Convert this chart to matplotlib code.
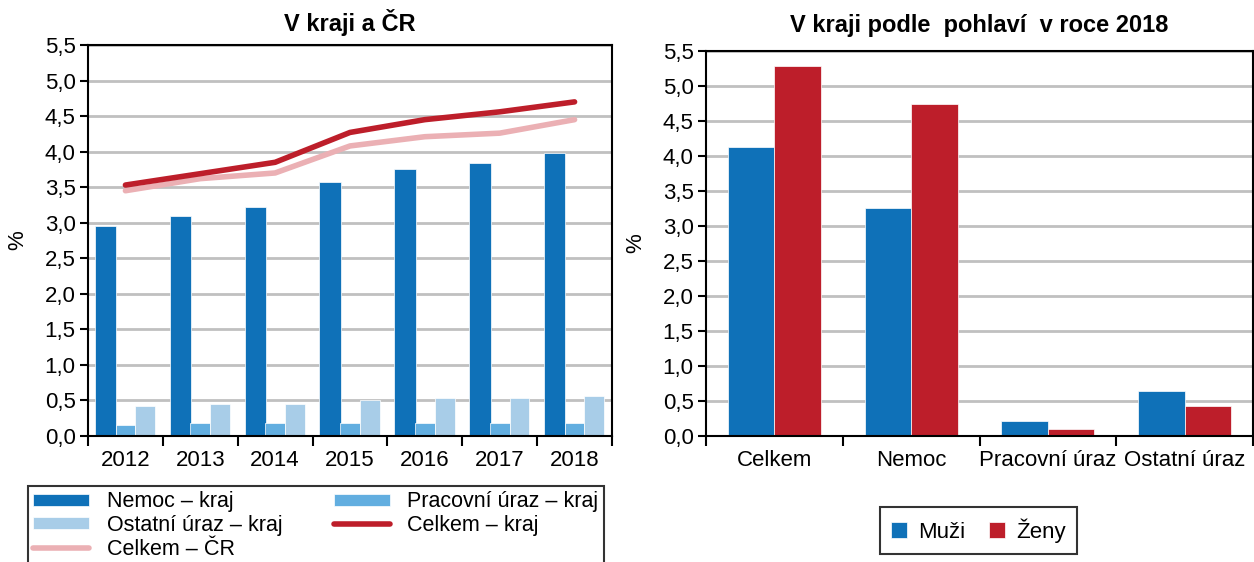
import numpy as np
import matplotlib.pyplot as plt
from matplotlib.ticker import FuncFormatter, MultipleLocator, FixedLocator

plt.rcParams['font.family'] = ['Liberation Sans', 'DejaVu Sans']

years = ['2012', '2013', '2014', '2015', '2016', '2017', '2018']
nemoc_kraj = [2.95, 3.09, 3.22, 3.57, 3.76, 3.84, 3.98]
pracovni_kraj = [0.15, 0.18, 0.18, 0.18, 0.18, 0.18, 0.18]
ostatni_kraj = [0.42, 0.45, 0.45, 0.50, 0.53, 0.53, 0.56]
celkem_kraj = [3.53, 3.69, 3.85, 4.27, 4.45, 4.56, 4.70]
celkem_cr = [3.45, 3.62, 3.70, 4.08, 4.21, 4.26, 4.45]

kategorie = ['Celkem', 'Nemoc', 'Pracovní úraz', 'Ostatní úraz']
muzi = [4.13, 3.26, 0.21, 0.65]
zeny = [5.29, 4.74, 0.10, 0.43]

c_nemoc = '#0F71B8'
c_prac = '#62AEE0'
c_ost = '#A8CDE8'
c_red = '#BD1E2A'
c_pink = '#EBB0B4'

comma = FuncFormatter(lambda v, p: ('%.1f' % v).replace('.', ','))


def style_axes(ax, n):
    ax.set_ylim(0, 5.5)
    ax.set_xlim(-0.5, n - 0.5)
    ax.yaxis.set_major_locator(MultipleLocator(0.5))
    ax.yaxis.set_major_formatter(comma)
    ax.yaxis.grid(True, color='#C0C0C0', linewidth=2)
    ax.set_axisbelow(True)
    ax.set_xticks(np.arange(n))
    ax.xaxis.set_minor_locator(FixedLocator(np.arange(n + 1) - 0.5))
    ax.tick_params(axis='x', which='major', length=0, labelsize=16, pad=10)
    ax.tick_params(axis='x', which='minor', length=7, width=1.5, direction='out')
    ax.tick_params(axis='y', length=6, width=1.5, labelsize=16, pad=3)
    for s in ax.spines.values():
        s.set_linewidth(1.5)
    ax.set_ylabel('%', fontsize=16, labelpad=12)


fig = plt.figure(figsize=(12.54, 5.62), dpi=100)

# left chart
ax1 = fig.add_axes([88 / 1254, 1 - 436 / 562, 524 / 1254, 391 / 562])
x = np.arange(len(years))
w = 0.265
b_nemoc = ax1.bar(x - w, nemoc_kraj, w + 0.02, color=c_nemoc, edgecolor='white', linewidth=0.5)
b_prac = ax1.bar(x, pracovni_kraj, w, color=c_prac, edgecolor='white', linewidth=0.5)
b_ost = ax1.bar(x + w, ostatni_kraj, w, color=c_ost, edgecolor='white', linewidth=0.5)
l_kraj, = ax1.plot(x, celkem_kraj, color=c_red, linewidth=4, solid_capstyle='round', zorder=4)
l_cr, = ax1.plot(x, celkem_cr, color=c_pink, linewidth=4, solid_capstyle='round', zorder=3)
style_axes(ax1, len(years))
ax1.set_xticklabels(years)
ax1.set_title('V kraji a ČR', fontsize=17, fontweight='bold', pad=10)

# column-major filling -> row order of the reference
h = [b_nemoc, b_ost, l_cr, b_prac, l_kraj]
l = ['Nemoc – kraj', 'Ostatní úraz – kraj', 'Celkem – ČR', 'Pracovní úraz – kraj', 'Celkem – kraj']
leg1 = fig.legend(h, l, ncol=2, loc='upper left', bbox_to_anchor=(28 / 1254, 1 - 486 / 562),
                  fontsize=15.5, frameon=True, fancybox=False, edgecolor='black',
                  handlelength=2.6, handleheight=0.5, handletextpad=0.8,
                  labelspacing=0.12, columnspacing=2.4, borderpad=0.25, borderaxespad=0)
leg1.get_frame().set_linewidth(1.5)

# right chart
ax2 = fig.add_axes([706 / 1254, 1 - 436 / 562, 547 / 1254, 385 / 562])
x2 = np.arange(len(kategorie))
w2 = 0.34
ax2.bar(x2 - w2 / 2, muzi, w2, color=c_nemoc, edgecolor='white', linewidth=0.5, label='Muži')
ax2.bar(x2 + w2 / 2, zeny, w2, color=c_red, edgecolor='white', linewidth=0.5, label='Ženy')
style_axes(ax2, len(kategorie))
ax2.set_xticklabels(kategorie)
ax2.set_title('V kraji podle  pohlaví  v roce 2018', fontsize=17, fontweight='bold', pad=14)

leg2 = fig.legend(*ax2.get_legend_handles_labels(), loc='upper left',
                  bbox_to_anchor=(880 / 1254, 1 - 507 / 562), ncol=2, fontsize=16,
                  frameon=True, fancybox=False, edgecolor='black', handlelength=0.7,
                  handleheight=0.7, handletextpad=0.5, columnspacing=1.1, borderpad=0.5,
                  borderaxespad=0)
leg2.get_frame().set_linewidth(1.5)

fig.savefig('out.png', dpi=100)
